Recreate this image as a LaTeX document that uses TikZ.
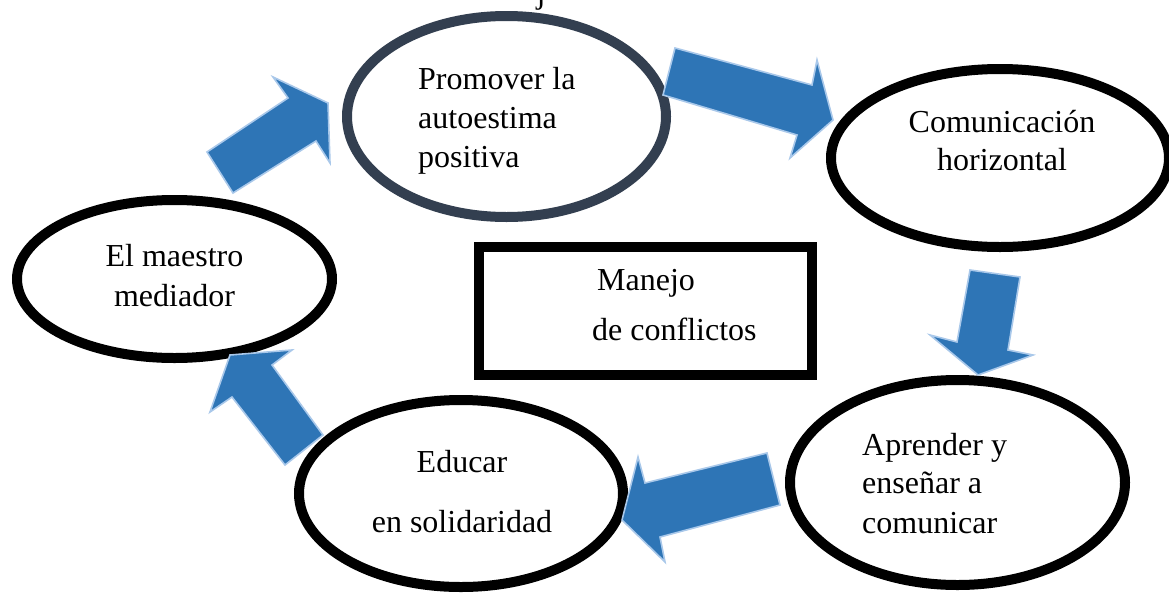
\documentclass[tikz,border=0pt]{standalone}
\usepackage{fontspec}
\setmainfont{Liberation Serif}
\usetikzlibrary{shapes.geometric}
\definecolor{arrowfill}{HTML}{2E75B6}
\definecolor{arrowedge}{HTML}{A9C8EA}
\definecolor{slate}{HTML}{333F50}
\tikzset{
  oval/.style={ellipse, draw=black, line width=10pt, inner sep=0pt, fill=white},
  lbl/.style={inner sep=0pt, font=\fontsize{32}{39}\selectfont},
  blockarrow/.style={fill=arrowfill, draw=arrowedge, line width=1.6pt, line join=miter},
  framebox/.style={draw=black, line width=10pt, inner sep=0pt, fill=white}
}
\begin{document}
\begin{tikzpicture}[x=1pt,y=-1pt]
\useasboundingbox (0,0) rectangle (1169,592);
\fill[white] (0,0) rectangle (1169,592);

% cut-off text at top
\node[lbl, anchor=base] (topj) at (541,3) {j};

% ovals
\node[oval, draw=slate, minimum width=319pt, minimum height=201pt] (prom) at (506.5,116.5) {};
\node[oval, minimum width=338pt, minimum height=178pt] (comu) at (1000,158) {};
\node[oval, minimum width=315pt, minimum height=158pt] (maes) at (174.5,279) {};
\node[oval, minimum width=335pt, minimum height=205pt] (apre) at (957.5,482.5) {};
\node[oval, minimum width=324pt, minimum height=187pt] (educ) at (461,493.5) {};

% central box
\node[framebox, minimum width=333pt, minimum height=128pt] (mane) at (645.5,311) {};

% texts
\node[lbl, anchor=base west] (p1) at (418,89) {Promover la};
\node[lbl, anchor=base west] (p2) at (418,128) {autoestima};
\node[lbl, anchor=base west] (p3) at (418,167) {positiva};

\node[lbl, anchor=base] (c1) at (1002,132) {Comunicación};
\node[lbl, anchor=base] (c2) at (1002,170) {horizontal};

\node[lbl, anchor=base] (m1) at (174.5,266) {El maestro};
\node[lbl, anchor=base] (m2) at (174.5,306) {mediador};

\node[lbl, anchor=base west] (a1) at (862,455) {Aprender y};
\node[lbl, anchor=base west] (a2) at (862,493) {enseñar a};
\node[lbl, anchor=base west] (a3) at (862,533) {comunicar};

\node[lbl, anchor=base] (e1) at (462,472) {Educar};
\node[lbl, anchor=base] (e2) at (462,532) {en solidaridad};

\node[lbl, anchor=base west] (b1) at (597,290) {Manejo};
\node[lbl, anchor=base west] (b2) at (592,340) {de conflictos};

% block arrows
\draw[blockarrow] (233,193) -- (207,152) -- (288,98) -- (273,77) -- (328,103) -- (330,163) -- (316,141) -- cycle;
\draw[blockarrow] (663,95) -- (675,48) -- (812,85) -- (817,60) -- (833,120) -- (790,158) -- (797,135) -- cycle;
\draw[blockarrow] (970,270) -- (1020,277) -- (1008,350) -- (1033,355) -- (978,375) -- (930,335) -- (957,342) -- cycle;
\draw[blockarrow] (767,453) -- (780,505) -- (660,537) -- (665,562) -- (622,520) -- (638,457) -- (645,483) -- cycle;
\draw[blockarrow] (323,435) -- (285,465) -- (232,397) -- (210,412) -- (230,355) -- (292,350) -- (272,365) -- cycle;
\end{tikzpicture}
\end{document}
